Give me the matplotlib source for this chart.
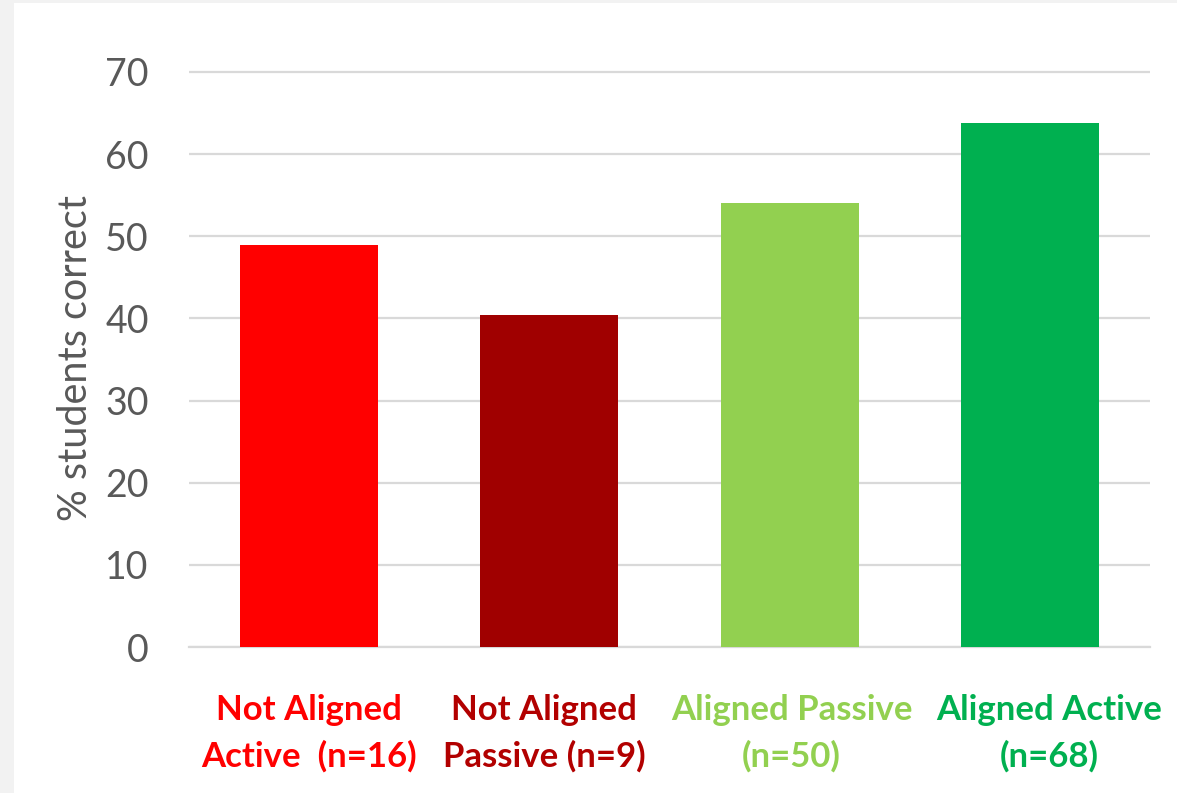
import matplotlib
matplotlib.use("Agg")
import matplotlib.pyplot as plt
from matplotlib.patches import Rectangle
from matplotlib.transforms import ScaledTranslation

# data
categories = ["Not Aligned\nActive  (n=16)", "Not Aligned\nPassive (n=9)",
              "Aligned Passive\n(n=50)", "Aligned Active\n(n=68)"]
pct_correct = [49.0, 40.4, 54.0, 63.8]
bar_colors = ["#FF0000", "#A00000", "#92D050", "#00B050"]
label_colors = ["#FF0000", "#B20000", "#92D050", "#00B050"]
y_ticks = [0, 10, 20, 30, 40, 50, 60, 70]

# small horizontal nudges (pixels) of the category labels, as in the original
label_nudge_px = [0, -5, 2, 19]

plt.rcParams["font.family"] = ["Lato", "DejaVu Sans"]

W, H = 1177, 793
fig = plt.figure(figsize=(W / 100, H / 100), dpi=100, facecolor="#F2F2F2")
# white chart area inside the grey frame
fig.patches.append(Rectangle((14 / W, 0), 1 - 14 / W, 1 - 3 / H,
                             transform=fig.transFigure, facecolor="white",
                             edgecolor="none", zorder=-10))

ymax = 70.3
px_per_unit = 575 / 70.0
ax = fig.add_axes([189 / W, 146 / H, 961 / W, ymax * px_per_unit / H])
ax.set_facecolor("none")

x = list(range(len(categories)))
ax.bar(x, pct_correct, width=0.574, color=bar_colors, zorder=3)

ax.set_xlim(-0.5, len(categories) - 0.5)
ax.set_ylim(0, ymax)
ax.set_yticks(y_ticks)
ax.grid(axis="y", color="#D9D9D9", linewidth=1.6, zorder=0)
for s in ["top", "right", "left"]:
    ax.spines[s].set_visible(False)
ax.spines["bottom"].set_color("#D9D9D9")
ax.spines["bottom"].set_linewidth(1.6)

ax.tick_params(axis="y", length=0, pad=29, labelsize=27, labelcolor="#595959")
ax.tick_params(axis="x", length=0, pad=34)
ax.set_xticks(x)
ax.set_xticklabels(categories, fontsize=25, fontweight="bold",
                   linespacing=1.52, va="top")
for lbl, c, dx in zip(ax.get_xticklabels(), label_colors, label_nudge_px):
    lbl.set_color(c)
    lbl.set_transform(lbl.get_transform()
                      + ScaledTranslation(dx / 100, 0, fig.dpi_scale_trans))

ax.set_ylabel("% students correct", fontsize=28.5, color="#595959", labelpad=8)

fig.savefig("out.png", dpi=100, facecolor=fig.get_facecolor())
